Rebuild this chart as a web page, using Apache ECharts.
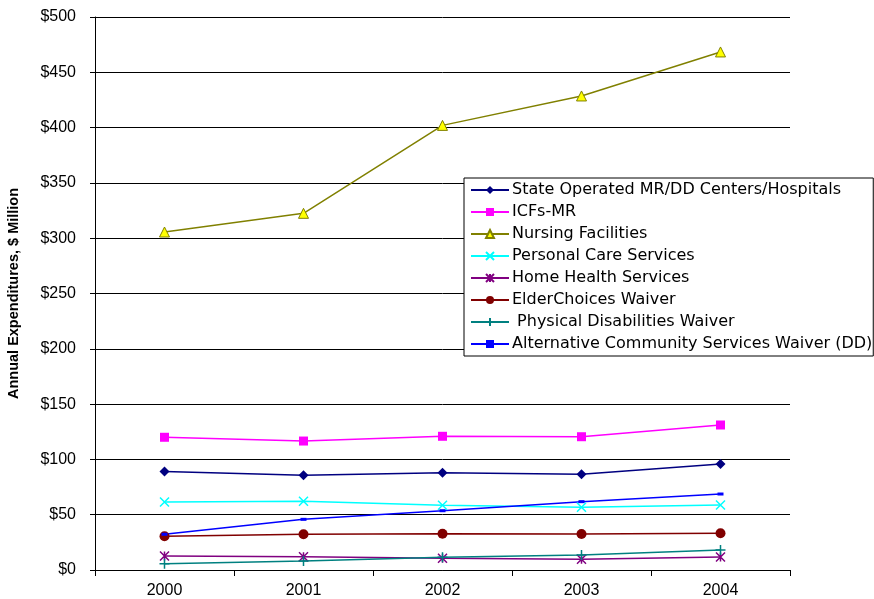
<!DOCTYPE html>
<html>
<head>
<meta charset="utf-8">
<script src="https://cdn.jsdelivr.net/npm/echarts@6/dist/echarts.min.js"></script>
<style>
  html, body { margin: 0; padding: 0; background: #fff; }
  #chart { width: 874px; height: 599px; }
</style>
</head>
<body>
<div id="chart"></div>
<script>
// years on the x axis
var years = ['2000', '2001', '2002', '2003', '2004'];

// annual expenditures, $ million
var stateOperated = [89, 85.6, 88, 86.5, 95.8];
var icfsMR = [120, 116.6, 120.9, 120.5, 131.1];
var nursing = [305.6, 322.5, 402, 428.6, 468.4];
var personalCare = [61.5, 62.1, 58.6, 56.7, 58.8];
var homeHealth = [12.7, 12, 10.6, 9.7, 11.8];
var elderChoices = [30.5, 32.3, 32.8, 32.6, 33.2];
var physicalDis = [5.7, 8.1, 11.5, 13.6, 18.1];
var altCommunity = [32.3, 45.8, 53.6, 61.8, 68.7];

var FONT = '"Liberation Sans", Arial, sans-serif';
var LEGEND_FONT = '"DejaVu Sans", sans-serif';

function line(name, data, color, symbol, size, extra) {
    var s = {
        name: name,
        type: 'line',
        data: data,
        symbol: symbol,
        symbolSize: size,
        showAllSymbol: true,
        lineStyle: { color: color, width: 1.5 },
        itemStyle: { color: color },
        emphasis: { disabled: true },
        z: 3
    };
    if (extra) {
        for (var k in extra) s[k] = extra[k];
    }
    return s;
}

// stroke-only marks (x, asterisk, plus)
function strokeMark(color) {
    return { color: 'none', borderColor: color, borderWidth: 1.5 };
}

var chart = echarts.init(document.getElementById('chart'));
chart.setOption({
    animation: false,
    textStyle: { fontFamily: FONT },
    grid: { left: 95, right: 84, top: 17, bottom: 29, containLabel: false, outerBoundsMode: 'none' },
    legend: {
        orient: 'vertical',
        left: 464,
        top: 178,
        padding: [4, 1, 4, 6],
        itemGap: 6,
        itemWidth: 38,
        itemHeight: 10,
        borderColor: '#000',
        borderWidth: 1,
        backgroundColor: '#fff',
        textStyle: { fontFamily: LEGEND_FONT, fontSize: 16, color: '#000', padding: [0, 0, 0, -2] },
        data: [
            'State Operated MR/DD Centers/Hospitals',
            'ICFs-MR',
            'Nursing Facilities',
            'Personal Care Services',
            'Home Health Services',
            'ElderChoices Waiver',
            ' Physical Disabilities Waiver',
            'Alternative Community Services Waiver (DD)'
        ]
    },
    xAxis: {
        type: 'category',
        data: years,
        boundaryGap: true,
        axisLine: { lineStyle: { color: '#000', width: 1 } },
        axisTick: { show: true, length: 6, lineStyle: { color: '#000' } },
        axisLabel: { fontFamily: FONT, fontSize: 16, color: '#000', margin: 13 }
    },
    yAxis: {
        type: 'value',
        min: 0,
        max: 500,
        interval: 50,
        name: 'Annual Expenditures, $ Million',
        nameLocation: 'middle',
        nameGap: 74,
        nameTextStyle: { fontFamily: FONT, fontSize: 14.5, fontWeight: 'bold', color: '#000' },
        axisLine: { show: true, lineStyle: { color: '#000', width: 1 } },
        axisTick: { show: true, length: 5, lineStyle: { color: '#000' } },
        axisLabel: {
            fontFamily: FONT, fontSize: 16, color: '#000', margin: 19,
            formatter: function (v) { return '$' + v; }
        },
        splitLine: { show: true, lineStyle: { color: '#000', width: 1 } }
    },
    series: [
        line('State Operated MR/DD Centers/Hospitals', stateOperated, '#000080', 'diamond', 10),
        line('ICFs-MR', icfsMR, '#FF00FF', 'rect', 9),
        line('Nursing Facilities', nursing, '#808000', 'triangle', 10,
            { itemStyle: { color: '#FFFF00', borderColor: '#808000', borderWidth: 1 } }),
        line('Personal Care Services', personalCare, '#00FFFF', 'path://M0,0L10,10M10,0L0,10', 9,
            { itemStyle: strokeMark('#00FFFF') }),
        line('Home Health Services', homeHealth, '#800080', 'path://M0,0L10,10M10,0L0,10M5,0L5,10', 9,
            { itemStyle: strokeMark('#800080') }),
        line('ElderChoices Waiver', elderChoices, '#800000', 'circle', 10),
        line(' Physical Disabilities Waiver', physicalDis, '#008080', 'path://M5,0L5,10M0,5L10,5', 10,
            { itemStyle: strokeMark('#008080') }),
        line('Alternative Community Services Waiver (DD)', altCommunity, '#0000FF', 'rect', [6, 3])
    ]
});
</script>
</body>
</html>
